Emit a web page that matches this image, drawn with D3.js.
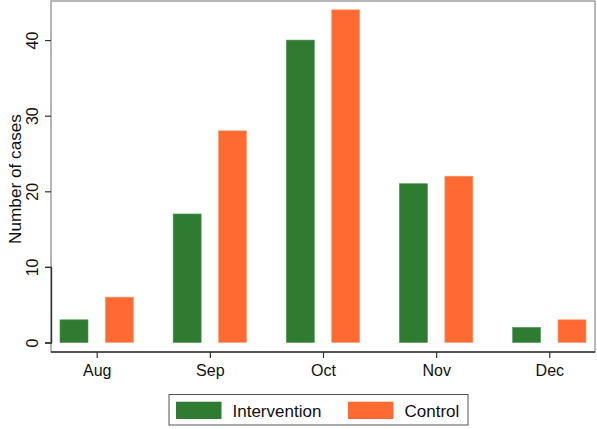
<!DOCTYPE html>
<html><head><meta charset="utf-8">
<script src="https://cdn.jsdelivr.net/npm/d3@7"></script>
<style>body{margin:0;background:#fff}svg{display:block;font-family:"Liberation Sans",Arial,sans-serif}</style>
</head><body>
<script>
const months = ["Aug","Sep","Oct","Nov","Dec"];
const intervention = [3,17,40,21,2];
const control = [6,28,44,22,3];
const seriesNames = ["Intervention","Control"];
const colors = ["#2f7b32","#fe6a32"];
const yTicks = [0,10,20,30,40];

const W=597,H=429;
const pL=51,pR=595,pT=1,pB=352;
const svg=d3.select("body").append("svg").attr("width",W).attr("height",H);

const x=d3.scalePoint().domain(months).range([96.7,549.3]);
const y=d3.scaleLinear().domain([0,10]).range([342.5,266.9]);
const bw=28, off=22.7;

// frame
svg.append("rect").attr("x",pL).attr("y",pT).attr("width",pR-pL).attr("height",pB-pT)
  .attr("fill","none").attr("stroke","#888").attr("stroke-width",1.2);

const data=[intervention,control];
data.forEach((vals,si)=>{
  svg.append("g").selectAll("rect").data(months).join("rect")
    .attr("x",d=>x(d)+(si===0?-off:off)-bw/2)
    .attr("y",(d,i)=>y(vals[i]))
    .attr("width",bw)
    .attr("height",(d,i)=>y(0)-y(vals[i]))
    .attr("fill",colors[si])
    .attr("stroke",si===0?"#4a9a4c":"#ff9a6a").attr("stroke-width",0.6);
});

// y axis
const ya=svg.append("g").attr("transform",`translate(${pL},0)`)
  .call(d3.axisLeft(y).tickValues(yTicks).tickSize(6).tickFormat(d3.format("d")));
ya.select(".domain").attr("stroke","#333").attr("stroke-width",1.4);
ya.selectAll(".tick line").attr("stroke","#333").attr("stroke-width",1.2);
ya.selectAll(".tick text").attr("font-size",16).attr("fill","#111")
  .attr("x",null).attr("dy",null).attr("y",0).attr("text-anchor","middle")
  .attr("transform","translate(-13,0) rotate(-90)");

// x axis
const xa=svg.append("g").attr("transform",`translate(0,${pB})`)
  .call(d3.axisBottom(x).tickSize(6).tickSizeOuter(0));
xa.select(".domain").attr("d",`M${pL},0H${pR}`).attr("stroke","#333").attr("stroke-width",1.4);
xa.selectAll(".tick line").attr("stroke","#333").attr("stroke-width",1.2);
xa.selectAll(".tick text").attr("font-size",16).attr("fill","#111").attr("y",13).attr("dy","0.71em");

// y title
svg.append("text").attr("transform","translate(20.5,179) rotate(-90)")
  .attr("text-anchor","middle").attr("font-size",17.2).attr("fill","#111").text("Number of cases");

// legend
const lg=svg.append("g");
lg.append("rect").attr("x",169).attr("y",394.5).attr("width",299).attr("height",30.5)
  .attr("fill","#fff").attr("stroke","#555").attr("stroke-width",1);
const lx=[176,348], tx=[232.5,404.5];
seriesNames.forEach((n,i)=>{
  lg.append("rect").attr("x",lx[i]).attr("y",401.7).attr("width",45.5).attr("height",17.3).attr("fill",colors[i]);
  lg.append("text").attr("x",tx[i]).attr("y",416.5).attr("font-size",17).attr("fill","#111").text(n);
});
</script>
</body></html>
